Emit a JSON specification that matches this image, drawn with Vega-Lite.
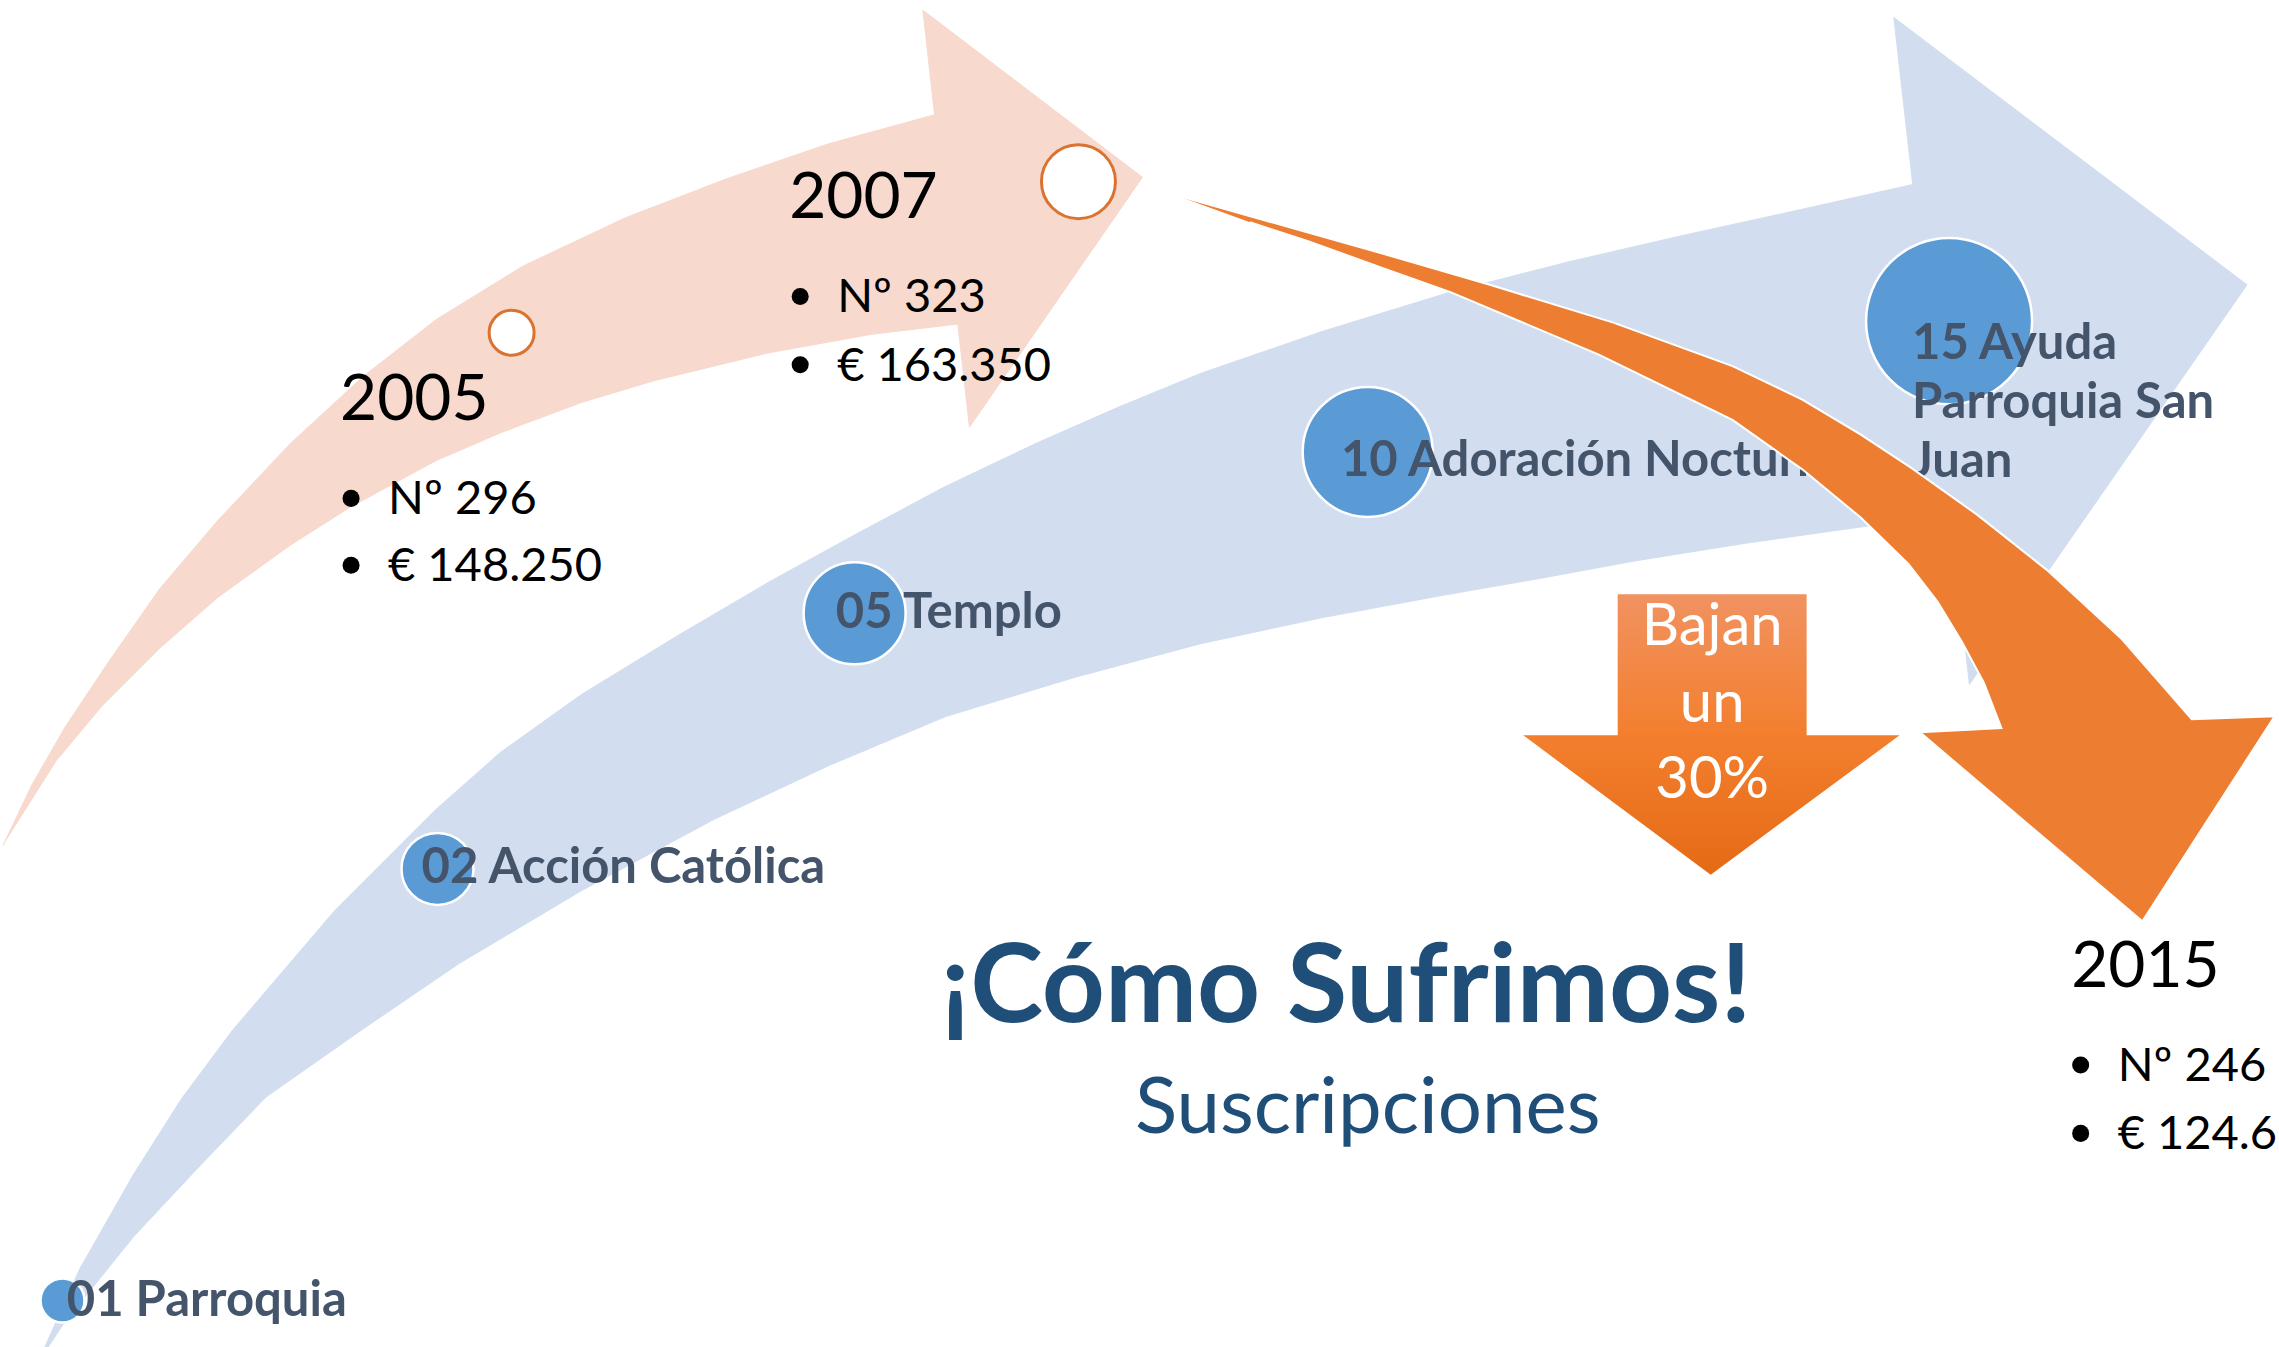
{
  "$schema": "https://vega.github.io/schema/vega-lite/v6.json",
  "width": 2279,
  "height": 1347,
  "autosize": {"type": "none"},
  "padding": 0,
  "background": "white",
  "config": {"view": {"stroke": null}, "font": "Lato"},
  "datasets": {
    "pink": [
      {"x": 2, "y": 582}, {"x": 22, "y": 540}, {"x": 45, "y": 500}, {"x": 75, "y": 455}, {"x": 110, "y": 405},
      {"x": 150, "y": 358}, {"x": 200, "y": 305}, {"x": 250, "y": 259}, {"x": 300, "y": 220}, {"x": 360, "y": 183},
      {"x": 430, "y": 150}, {"x": 500, "y": 123}, {"x": 570, "y": 99}, {"x": 643, "y": 79},
      {"x": 635, "y": 7}, {"x": 786, "y": 122}, {"x": 667, "y": 294}, {"x": 659, "y": 223},
      {"x": 600, "y": 230}, {"x": 528, "y": 243}, {"x": 450, "y": 262}, {"x": 400, "y": 277}, {"x": 344, "y": 298},
      {"x": 300, "y": 317}, {"x": 241, "y": 349}, {"x": 200, "y": 375}, {"x": 150, "y": 411}, {"x": 110, "y": 446},
      {"x": 70, "y": 486}, {"x": 40, "y": 522}
    ],
    "blue": [
      {"x": 25, "y": 940}, {"x": 55, "y": 873}, {"x": 92, "y": 808}, {"x": 125, "y": 756}, {"x": 160, "y": 709},
      {"x": 230, "y": 627}, {"x": 300, "y": 557}, {"x": 344, "y": 518}, {"x": 400, "y": 478}, {"x": 467, "y": 437},
      {"x": 530, "y": 400}, {"x": 590, "y": 367}, {"x": 650, "y": 335}, {"x": 713, "y": 305}, {"x": 770, "y": 280},
      {"x": 826, "y": 257}, {"x": 910, "y": 228}, {"x": 998, "y": 201}, {"x": 1080, "y": 180}, {"x": 1158, "y": 162},
      {"x": 1240, "y": 144}, {"x": 1316, "y": 127},
      {"x": 1303, "y": 12}, {"x": 1546, "y": 196}, {"x": 1355, "y": 471}, {"x": 1342, "y": 355},
      {"x": 1285, "y": 362}, {"x": 1200, "y": 374}, {"x": 1125, "y": 386}, {"x": 1060, "y": 398}, {"x": 991, "y": 410},
      {"x": 910, "y": 425}, {"x": 826, "y": 443}, {"x": 740, "y": 466}, {"x": 651, "y": 493}, {"x": 570, "y": 527},
      {"x": 491, "y": 564}, {"x": 400, "y": 613}, {"x": 316, "y": 663}, {"x": 250, "y": 708}, {"x": 183, "y": 755},
      {"x": 135, "y": 805}, {"x": 92, "y": 851}, {"x": 46, "y": 908}
    ],
    "orange": [
      {"x": 808, "y": 134}, {"x": 850, "y": 146}, {"x": 900, "y": 160}, {"x": 960, "y": 177}, {"x": 1025, "y": 196},
      {"x": 1110, "y": 222}, {"x": 1192, "y": 252}, {"x": 1240, "y": 275}, {"x": 1280, "y": 299}, {"x": 1315, "y": 322},
      {"x": 1360, "y": 354}, {"x": 1408, "y": 392}, {"x": 1460, "y": 440}, {"x": 1508, "y": 495},
      {"x": 1565, "y": 493}, {"x": 1474, "y": 634}, {"x": 1321, "y": 504}, {"x": 1377, "y": 501},
      {"x": 1365, "y": 470}, {"x": 1350, "y": 442}, {"x": 1333, "y": 414}, {"x": 1313, "y": 388}, {"x": 1280, "y": 356},
      {"x": 1240, "y": 323}, {"x": 1192, "y": 289}, {"x": 1100, "y": 244}, {"x": 998, "y": 201}, {"x": 950, "y": 184},
      {"x": 900, "y": 166}, {"x": 860, "y": 153}
    ],
    "down": [
      {"x": 1113, "y": 409}, {"x": 1243, "y": 409}, {"x": 1243, "y": 506}, {"x": 1307, "y": 506},
      {"x": 1177, "y": 602}, {"x": 1048, "y": 506}, {"x": 1113, "y": 506}
    ],
    "yearDots": [
      {"x": 352, "y": 229, "year": "2005"},
      {"x": 742, "y": 125, "year": "2007"}
    ],
    "groups": [
      {"x": 43, "y": 895, "code": "01"},
      {"x": 301, "y": 598, "code": "02"},
      {"x": 588, "y": 422, "code": "05"},
      {"x": 941, "y": 311, "code": "10"},
      {"x": 1341, "y": 221, "code": "15"}
    ],
    "groupLabels": [
      {"x": 46, "y": 905.5, "t": "01 Parroquia"},
      {"x": 290, "y": 608, "t": "02 Acción Católica"},
      {"x": 575, "y": 432, "t": "05 Templo"},
      {"x": 922.6, "y": 327.6, "t": "10 Adoración Nocturna"},
      {"x": 1315.5, "y": 247, "t": "15 Ayuda\nParroquia San\nJuan"}
    ],
    "years": [
      {"x": 234, "y": 289, "t": "2005"},
      {"x": 543, "y": 150, "t": "2007"},
      {"x": 1425, "y": 679, "t": "2015"}
    ],
    "values": [
      {"x": 267, "y": 354, "t": "Nº 296"},
      {"x": 267, "y": 400, "t": "€ 148.250"},
      {"x": 576, "y": 215, "t": "Nº 323"},
      {"x": 576, "y": 262, "t": "€ 163.350"},
      {"x": 1457, "y": 744, "t": "Nº 246"},
      {"x": 1457, "y": 791, "t": "€ 124.650"}
    ],
    "bajan": [
      {"x": 1178, "y": 444, "t": "Bajan"},
      {"x": 1178, "y": 497, "t": "un"},
      {"x": 1178, "y": 549, "t": "30%"}
    ],
    "title": [{"x": 926, "y": 703, "t": "¡Cómo Sufrimos!"}],
    "subtitle": [{"x": 941, "y": 779.5, "t": "Suscripciones"}]
  },
  "encoding": {
    "x": {"field": "x", "type": "quantitative", "scale": {"domain": [0, 1568], "nice": false, "zero": false}, "axis": null},
    "y": {"field": "y", "type": "quantitative", "scale": {"domain": [0, 927], "nice": false, "zero": false, "reverse": true}, "axis": null}
  },
  "layer": [
    {
      "data": {"name": "pink"},
      "mark": {"type": "line", "fill": "#F8D9CE", "stroke": "#F8D9CE", "strokeWidth": 1, "interpolate": "linear"},
      "encoding": {"order": {"value": null}}
    },
    {
      "data": {"name": "blue"},
      "mark": {"type": "line", "fill": "#D2DEEF", "stroke": "#D2DEEF", "strokeWidth": 1, "interpolate": "linear"},
      "encoding": {"order": {"value": null}}
    },
    {
      "data": {"name": "yearDots"},
      "mark": {"type": "point", "shape": "circle", "filled": false, "fill": "white", "fillOpacity": 1, "stroke": "#DA7330", "strokeWidth": 3, "opacity": 1},
      "encoding": {
        "size": {"field": "year", "type": "nominal", "scale": {"type": "ordinal", "domain": ["2005", "2007"], "range": [2025, 5476]}, "legend": null}
      }
    },
    {
      "data": {"name": "groups"},
      "mark": {"type": "point", "shape": "circle", "filled": true, "color": "#5B9BD5", "stroke": "white", "strokeWidth": 2.5, "opacity": 1},
      "encoding": {
        "size": {"field": "code", "type": "nominal", "scale": {"type": "ordinal", "domain": ["01", "02", "05", "10", "15"], "range": [1936, 5184, 10404, 16900, 27556]}, "legend": null}
      }
    },
    {
      "data": {"name": "groupLabels"},
      "mark": {"type": "text", "align": "left", "baseline": "alphabetic", "fontSize": 49, "fontWeight": "bold", "color": "#44546A", "lineBreak": "\n", "lineHeight": 59},
      "encoding": {"text": {"field": "t", "type": "nominal"}}
    },
    {
      "data": {"name": "orange"},
      "mark": {"type": "line", "fill": "#ED7D31", "stroke": "white", "strokeWidth": 2, "interpolate": "linear"},
      "encoding": {"order": {"value": null}}
    },
    {
      "data": {"name": "down"},
      "mark": {
        "type": "line",
        "fill": {"gradient": "linear", "x1": 0, "y1": 0, "x2": 0, "y2": 1, "stops": [{"offset": 0, "color": "#F19261"}, {"offset": 0.5, "color": "#F37F2E"}, {"offset": 1, "color": "#E56A16"}]},
        "stroke": null,
        "interpolate": "linear"
      },
      "encoding": {"order": {"value": null}}
    },
    {
      "data": {"name": "bajan"},
      "mark": {"type": "text", "align": "center", "baseline": "alphabetic", "fontSize": 58, "color": "white"},
      "encoding": {"text": {"field": "t", "type": "nominal"}}
    },
    {
      "data": {"name": "years"},
      "mark": {"type": "text", "align": "left", "baseline": "alphabetic", "fontSize": 64, "color": "#000000"},
      "encoding": {"text": {"field": "t", "type": "nominal"}}
    },
    {
      "data": {"name": "values"},
      "mark": {"type": "text", "align": "left", "baseline": "alphabetic", "fontSize": 47, "color": "#000000"},
      "encoding": {"text": {"field": "t", "type": "nominal"}}
    },
    {
      "data": {"name": "values"},
      "mark": {"type": "point", "shape": "circle", "filled": true, "color": "#000000", "size": 290, "xOffset": -37, "yOffset": -16, "opacity": 1}
    },
    {
      "data": {"name": "title"},
      "mark": {"type": "text", "align": "center", "baseline": "alphabetic", "fontSize": 110, "fontWeight": "bold", "color": "#1F4E79"},
      "encoding": {"text": {"field": "t", "type": "nominal"}}
    },
    {
      "data": {"name": "subtitle"},
      "mark": {"type": "text", "align": "center", "baseline": "alphabetic", "fontSize": 78, "color": "#1F4E79"},
      "encoding": {"text": {"field": "t", "type": "nominal"}}
    }
  ],
  "resolve": {"scale": {"size": "independent"}}
}
